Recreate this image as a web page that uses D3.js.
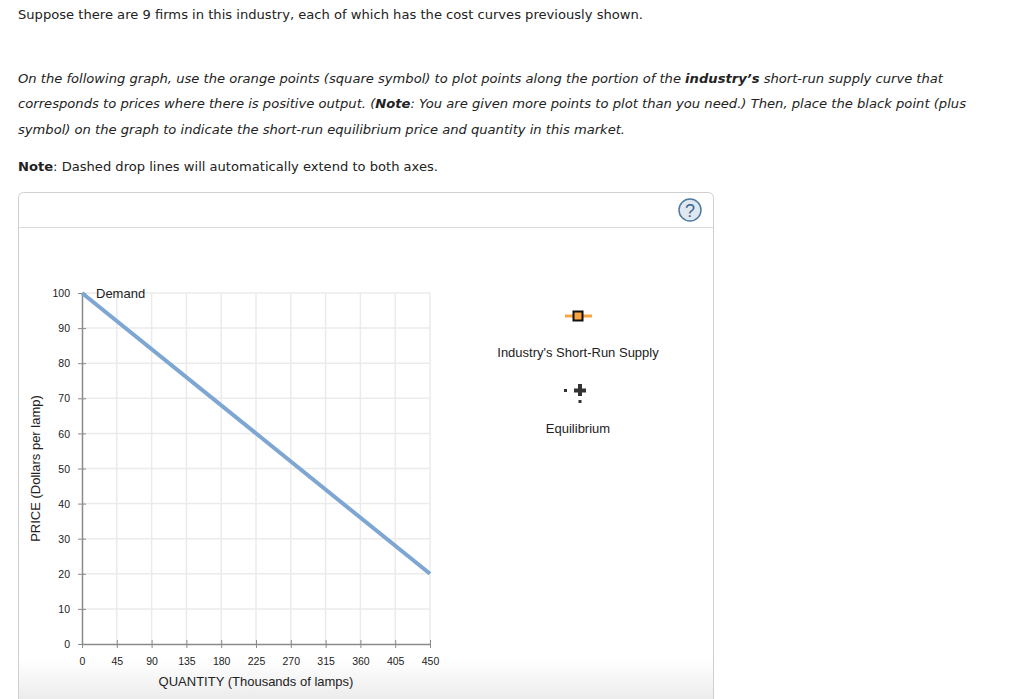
<!DOCTYPE html>
<html><head><meta charset="utf-8">
<script src="https://cdn.jsdelivr.net/npm/d3@7"></script>
<style>body{margin:0;background:#fff;}svg{display:block;}</style>
</head><body>
<svg id="chart" width="1024" height="699"></svg>
<script>
const xTicks = [0,45,90,135,180,225,270,315,360,405,450];
const yTicks = [0,10,20,30,40,50,60,70,80,90,100];
const demandQ = [0,450];
const demandP = [100,20];
const legendLabels = ["Industry's Short-Run Supply","Equilibrium"];

const svg = d3.select("#chart");
const defs = svg.append("defs");
const grad = defs.append("linearGradient").attr("id","bot").attr("x1",0).attr("y1",0).attr("x2",0).attr("y2",1);
grad.append("stop").attr("offset","0%").attr("stop-color","#ffffff");
grad.append("stop").attr("offset","100%").attr("stop-color","#ececec");

const tf = "Tahoma, 'DejaVu Sans', Verdana, sans-serif";
function line(y, parts, len, italic){
  const t = svg.append("text").attr("x",18).attr("y",y).attr("font-family",tf).attr("font-size",13)
    .attr("fill","#222").attr("textLength",len).attr("lengthAdjust","spacingAndGlyphs");
  if(italic) t.attr("font-style","italic");
  parts.forEach(p=>{ const s=t.append("tspan").text(p[0]); if(p[1]) s.attr("font-weight","bold"); });
}
line(19,[["Suppose there are 9 firms in this industry, each of which has the cost curves previously shown."]],625);
line(83,[["On the following graph, use the orange points (square symbol) to plot points along the portion of the "],["industry’s",1],[" short-run supply curve that"]],925,true);
line(108,[["corresponds to prices where there is positive output. ("],["Note",1],[": You are given more points to plot than you need.) Then, place the black point (plus"]],948,true);
line(134,[["symbol) on the graph to indicate the short-run equilibrium price and quantity in this market."]],607,true);
line(171,[["Note",1],[": Dashed drop lines will automatically extend to both axes."]],420,false);

// box
svg.append("rect").attr("x",18.5).attr("y",192.5).attr("width",695).attr("height",520).attr("rx",5)
  .attr("fill","#fff").attr("stroke","#cfcfcf");
svg.append("rect").attr("x",19).attr("y",660).attr("width",694).attr("height",39).attr("fill","url(#bot)");
svg.append("line").attr("x1",19).attr("x2",713).attr("y1",227.5).attr("y2",227.5).attr("stroke","#dcdcdc");
svg.append("circle").attr("cx",690).attr("cy",210).attr("r",11).attr("fill","#dfe8f1").attr("stroke","#4f7aa0").attr("stroke-width",1.5);
svg.append("text").attr("x",690).attr("y",216.5).attr("text-anchor","middle").attr("font-family","Arial, 'Liberation Sans'")
  .attr("font-size",18).attr("fill","#3a6690").text("?");

// scales
const x = d3.scaleLinear().domain([0,450]).range([82,430]);
const y = d3.scaleLinear().domain([0,100]).range([644,293]);
const af = "Arial, 'Liberation Sans', sans-serif";

// grid
svg.append("g").selectAll("line").data(xTicks.slice(1)).join("line")
  .attr("x1",d=>x(d)).attr("x2",d=>x(d)).attr("y1",y(0)).attr("y2",y(100)).attr("stroke","#ebebeb").attr("stroke-width",1.5);
svg.append("g").selectAll("line").data(yTicks.slice(1)).join("line")
  .attr("y1",d=>y(d)).attr("y2",d=>y(d)).attr("x1",x(0)).attr("x2",x(450)).attr("stroke","#ebebeb").attr("stroke-width",1.5);

// axes
const yAxis = svg.append("g").attr("transform",`translate(${x(0)},0)`)
  .call(d3.axisLeft(y).tickValues(yTicks).tickSizeInner(4).tickSizeOuter(0).tickPadding(8));
const xAxis = svg.append("g").attr("transform",`translate(0,${y(0)})`)
  .call(d3.axisBottom(x).tickValues(xTicks).tickSizeInner(4).tickSizeOuter(0).tickPadding(10));
[yAxis,xAxis].forEach(a=>{
  a.select(".domain").attr("stroke","#8a8a8a").attr("stroke-width",1.5);
  a.selectAll(".tick line").attr("stroke","#8a8a8a").attr("stroke-width",1);
  a.selectAll("text").attr("font-family",af).attr("font-size",10.5).attr("fill","#222");
});
yAxis.selectAll(".tick line").attr("x2",4).attr("x1",-4);
xAxis.selectAll(".tick line").attr("y1",-4).attr("y2",4);
yAxis.selectAll(".tick text").attr("dy","0.35em");

// axis titles
svg.append("text").attr("x",(x(0)+x(450))/2).attr("y",686).attr("text-anchor","middle")
  .attr("font-family",af).attr("font-size",13).attr("fill","#222").text("QUANTITY (Thousands of lamps)");
svg.append("text").attr("transform",`translate(40,${(y(0)+y(100))/2}) rotate(-90)`).attr("text-anchor","middle")
  .attr("font-family",af).attr("font-size",13).attr("fill","#222").text("PRICE (Dollars per lamp)");

// demand
const pts = demandQ.map((q,i)=>[x(q),y(demandP[i])]);
svg.append("path").attr("d",d3.line()(pts)).attr("stroke","#7ea6d2").attr("stroke-width",4).attr("fill","none");
svg.append("text").attr("x",96).attr("y",298).attr("font-family",af).attr("font-size",13).attr("fill","#222").text("Demand");

// legend
const lg = svg.append("g");
lg.append("line").attr("x1",565).attr("x2",592).attr("y1",316).attr("y2",316).attr("stroke","#f7a540").attr("stroke-width",3);
lg.append("rect").attr("x",573.5).attr("y",311.5).attr("width",9).attr("height",9).attr("fill","#f7a540").attr("stroke","#111").attr("stroke-width",2);
lg.append("text").attr("x",578).attr("y",357).attr("text-anchor","middle").attr("font-family",af).attr("font-size",13).attr("fill","#222").text(legendLabels[0]);
lg.append("rect").attr("x",564).attr("y",389).attr("width",3).attr("height",3).attr("fill","#333");
lg.append("rect").attr("x",574).attr("y",388.5).attr("width",12).attr("height",4).attr("fill","#333");
lg.append("rect").attr("x",578).attr("y",384).attr("width",4).attr("height",12).attr("fill","#333");
lg.append("rect").attr("x",578.5).attr("y",400).attr("width",3).attr("height",3).attr("fill","#333");
lg.append("text").attr("x",578).attr("y",433).attr("text-anchor","middle").attr("font-family",af).attr("font-size",13).attr("fill","#222").text(legendLabels[1]);
</script>
</body></html>
